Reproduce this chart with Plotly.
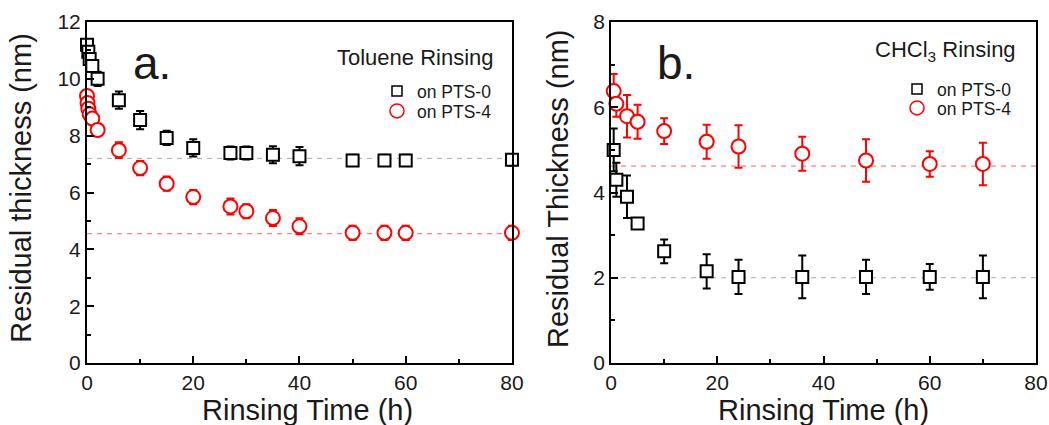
import plotly.graph_objects as go

FONT = "Arial, Liberation Sans, sans-serif"

# ---- Panel a: Toluene rinsing ----
tol_t_pts0 = [0, 0.25, 0.5, 1, 2, 6, 10, 15, 20, 27, 30, 35, 40, 50, 56, 60, 80]
tol_y_pts0 = [11.2, 10.95, 10.7, 10.45, 10.0, 9.25, 8.55, 7.92, 7.57, 7.39, 7.39, 7.33, 7.28, 7.13, 7.13, 7.13, 7.15]
tol_e_pts0 = [0.2, 0.2, 0.2, 0.2, 0.25, 0.3, 0.32, 0.25, 0.3, 0.23, 0.23, 0.3, 0.32, 0.2, 0.2, 0.2, 0.2]

tol_t_pts4 = [0, 0.1, 0.25, 0.5, 1, 2, 6, 10, 15, 20, 27, 30, 35, 40, 50, 56, 60, 80]
tol_y_pts4 = [9.4, 9.15, 8.95, 8.75, 8.6, 8.2, 7.49, 6.86, 6.31, 5.84, 5.51, 5.34, 5.1, 4.81, 4.58, 4.58, 4.58, 4.58]
tol_e_pts4 = [0.2, 0.2, 0.2, 0.2, 0.2, 0.2, 0.28, 0.25, 0.25, 0.25, 0.28, 0.25, 0.28, 0.28, 0.25, 0.25, 0.25, 0.25]

tol_levels = [7.2, 4.55]

# ---- Panel b: CHCl3 rinsing ----
chl_t = [0.5, 1, 3, 5, 10, 18, 24, 36, 48, 60, 70]
chl_y_pts0 = [5.0, 4.3, 3.9, 3.27, 2.62, 2.15, 2.02, 2.02, 2.02, 2.02, 2.02]
chl_e_pts0 = [0.5, 0.4, 0.5, 0.1, 0.28, 0.4, 0.4, 0.5, 0.4, 0.3, 0.5]
chl_y_pts4 = [6.38, 6.08, 5.79, 5.66, 5.44, 5.19, 5.08, 4.91, 4.75, 4.67, 4.67]
chl_e_pts4 = [0.4, 0.3, 0.5, 0.4, 0.3, 0.4, 0.5, 0.4, 0.5, 0.3, 0.5]

chl_levels = [2.0, 4.62]

series_names = ["on PTS-0", "on PTS-4"]
BLACK = "#000000"
RED = "#ff0000"

fig = go.Figure()


def add_series(x, y, e, color, symbol, size, xa, ya):
    fig.add_trace(go.Scatter(
        x=x, y=y, mode="markers", xaxis=xa, yaxis=ya, showlegend=False,
        cliponaxis=False,
        marker=dict(symbol=symbol, size=size, color="white",
                    line=dict(color=color, width=2)),
        error_y=dict(type="data", array=e, color=color, thickness=2, width=4),
    ))


add_series(tol_t_pts0, tol_y_pts0, tol_e_pts0, BLACK, "square", 12, "x", "y")
add_series(tol_t_pts4, tol_y_pts4, tol_e_pts4, RED, "circle", 14, "x", "y")
add_series(chl_t, chl_y_pts0, chl_e_pts0, BLACK, "square", 12, "x2", "y2")
add_series(chl_t, chl_y_pts4, chl_e_pts4, RED, "circle", 14, "x2", "y2")

# legend-only entries (one legend per row for precise spacing)
for (lg0, lg4), xa, ya in [(("legend", "legend3"), "x", "y"), (("legend2", "legend4"), "x2", "y2")]:
    fig.add_trace(go.Scatter(x=[None], y=[None], mode="markers", name=series_names[0],
                             legend=lg0, xaxis=xa, yaxis=ya,
                             marker=dict(symbol="square-open", size=10, color=BLACK,
                                         line=dict(color=BLACK, width=1.5))))
    fig.add_trace(go.Scatter(x=[None], y=[None], mode="markers", name=series_names[1],
                             legend=lg4, xaxis=xa, yaxis=ya,
                             marker=dict(symbol="circle-open", size=14, color=RED,
                                         line=dict(color=RED, width=1.5))))

# dashed reference levels
shapes = []
for lvl, col in zip(tol_levels, ["#aaaaaa", "#ff6060"]):
    shapes.append(dict(type="line", xref="x", yref="y", x0=0, x1=80, y0=lvl, y1=lvl,
                       line=dict(color=col, width=1, dash="5px,5px"), layer="below"))
for lvl, col in zip(chl_levels, ["#aaaaaa", "#ff6060"]):
    shapes.append(dict(type="line", xref="x2", yref="y2", x0=0, x1=80, y0=lvl, y1=lvl,
                       line=dict(color=col, width=1, dash="5px,5px"), layer="below"))

axis_common = dict(
    showline=True, linewidth=2, linecolor="black", mirror=True,
    ticks="inside", ticklen=7, tickwidth=2, tickcolor="black",
    showgrid=False, zeroline=False, automargin=False,
    tickfont=dict(family=FONT, size=21, color="#1a1a1a"),
)
minor_x = dict(ticks="inside", ticklen=4, tickwidth=2, dtick=10, tickcolor="black")
minor_y = dict(ticks="inside", ticklen=4, tickwidth=2, dtick=1, tickcolor="black")

LEG_FONT = dict(family=FONT, size=17.5, color="#1a1a1a")


def leg(x, y):
    return dict(x=x, y=y, xanchor="left", yanchor="middle", bgcolor="rgba(0,0,0,0)",
                borderwidth=0, font=LEG_FONT)


# paper coords: x px = 87 + 949*x ; y px = 363 - 341*y
fig.update_layout(
    width=1049, height=425,
    margin=dict(l=87, r=13, t=22, b=62, autoexpand=False),
    paper_bgcolor="white", plot_bgcolor="white",
    font=dict(family=FONT, color="#1a1a1a"),
    xaxis=dict(domain=[0, 0.4478], range=[0, 80], dtick=20, minor=minor_x, anchor="y", **axis_common),
    yaxis=dict(domain=[0, 1], range=[0, 12], dtick=2, minor=minor_y, anchor="x", **axis_common),
    xaxis2=dict(domain=[0.5522, 1], range=[0, 80], dtick=20, minor=minor_x, anchor="y2", **axis_common),
    yaxis2=dict(domain=[0, 1], range=[0, 8], dtick=2, minor=minor_y, anchor="x2", **axis_common),
    shapes=shapes,
    legend=leg((377 - 87) / 949, (363 - 91) / 341),
    legend3=leg((377 - 87) / 949, (363 - 111) / 341),
    legend2=leg((897 - 87) / 949, (363 - 89) / 341),
    legend4=leg((897 - 87) / 949, (363 - 108) / 341),
)

ann = []
# panel letters
ann.append(dict(text="a.", xref="x domain", yref="y domain", x=0.1035, y=0.88,
                xanchor="left", yanchor="middle", showarrow=False,
                font=dict(family=FONT, size=46, color="#1a1a1a")))
ann.append(dict(text="b.", xref="x2 domain", yref="y2 domain", x=0.1035, y=0.88,
                xanchor="left", yanchor="middle", showarrow=False,
                font=dict(family=FONT, size=46, color="#1a1a1a")))
# legend headers
ann.append(dict(text="Toluene Rinsing", xref="x domain", yref="y domain", x=0.962, y=0.8956,
                xanchor="right", yanchor="middle", showarrow=False,
                font=dict(family=FONT, size=22, color="#1a1a1a")))
ann.append(dict(text="CHCl<sub>3</sub> Rinsing", xref="x2 domain", yref="y2 domain", x=0.957, y=0.915,
                xanchor="right", yanchor="middle", showarrow=False,
                font=dict(family=FONT, size=22, color="#1a1a1a")))
# axis titles
TITLE_FONT = dict(family=FONT, size=29, color="#1a1a1a")
ann.append(dict(text="Rinsing Time (h)", xref="x domain", yref="paper", x=0.52, y=-0.1378,
                xanchor="center", yanchor="middle", showarrow=False, font=TITLE_FONT))
ann.append(dict(text="Rinsing Time (h)", xref="x2 domain", yref="paper", x=0.5, y=-0.1378,
                xanchor="center", yanchor="middle", showarrow=False, font=TITLE_FONT))
ann.append(dict(text="Residual thickness (nm)", xref="paper", yref="paper", x=-0.0700, y=0.513,
                xanchor="center", yanchor="middle", textangle=-90, showarrow=False, font=TITLE_FONT))
ann.append(dict(text="Residual Thickness (nm)", xref="paper", yref="paper", x=0.4963, y=0.513,
                xanchor="center", yanchor="middle", textangle=-90, showarrow=False, font=TITLE_FONT))
fig.update_layout(annotations=ann)

fig.write_html("out.html",
               config={"displayModeBar": False},
               post_script="document.body.style.margin='0px';document.body.style.overflow='hidden';")
